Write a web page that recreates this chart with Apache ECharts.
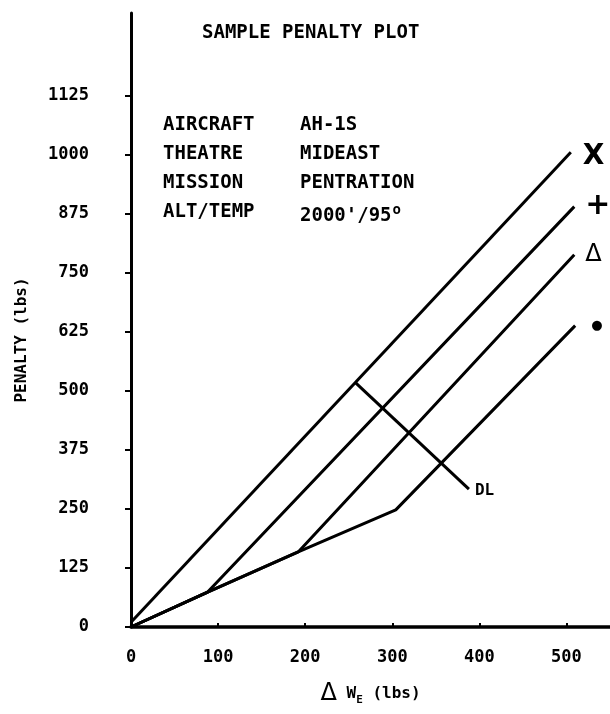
<!DOCTYPE html>
<html>
<head>
<meta charset="utf-8">
<title>Sample Penalty Plot</title>
<script src="https://cdn.jsdelivr.net/npm/echarts@6/dist/echarts.min.js"></script>
<style>
  html, body { margin: 0; padding: 0; background: #fff; }
  #main { width: 610px; height: 714px; }
</style>
</head>
<body>
<div id="main"></div>
<script>
// axis ticks
const xTicks = [0, 100, 200, 300, 400, 500]
const yTicks = [0, 125, 250, 375, 500, 625, 750, 875, 1000, 1125]

// line break points: [ΔW_E, penalty]
const lineX = [[0, 10], [505, 1005]]
const linePlus = [[0, 0], [88, 74], [509, 890]]
const lineTri = [[0, 0], [88, 74], [192, 159], [509, 788]]
const lineDot = [[0, 0], [88, 74], [192, 159], [304, 248], [510, 638]]
const lineDL = [[258, 517], [388, 292]]

// symbols at the line ends
const markers = ['X', '+', 'Δ', '●']

// info block
const infoKeys = ['AIRCRAFT', 'THEATRE', 'MISSION', 'ALT/TEMP']
const infoValues = ['AH-1S', 'MIDEAST', 'PENTRATION', "2000'/95°"]

const MONO = '"DejaVu Sans Mono", "Liberation Mono", monospace'
const SANS = '"DejaVu Sans", sans-serif'

let myChart = echarts.init(document.getElementById('main'))

function lineSeries(data, label, lbl) {
  return {
    type: 'line',
    data: data,
    symbol: 'none',
    silent: true,
    color: '#000',
    lineStyle: { color: '#000', width: 3 },
    endLabel: Object.assign({ show: true, formatter: label, color: '#000' }, lbl)
  }
}

// info text as graphic elements
let graphics = []
infoKeys.forEach((k, i) => {
  graphics.push({
    type: 'text', left: 163, top: 116 + i * 29,
    style: { text: k, font: 'bold 19px ' + MONO, fill: '#000' }
  })
  graphics.push({
    type: 'text', left: 300, top: 116 + i * 29,
    style: {
      text: infoValues[i].replace('°', '{sup|o}'),
      font: 'bold 19px ' + MONO, fill: '#000',
      rich: { sup: { fontSize: 14, fontWeight: 'bold', fontFamily: MONO, padding: [0, 0, 12, 1] } }
    }
  })
})
// y axis name
graphics.push({
  type: 'text', x: 22, y: 340, rotation: Math.PI / 2,
  style: { text: 'PENALTY (lbs)', font: 'bold 16px ' + MONO, fill: '#000', align: 'center', verticalAlign: 'middle' }
})

let option = {
  animation: false,
  backgroundColor: '#fff',
  title: {
    text: 'SAMPLE PENALTY PLOT',
    left: 197, top: 19,
    textStyle: { fontFamily: MONO, fontWeight: 'bold', fontSize: 19, color: '#000' }
  },
  grid: { left: 131, right: 0, top: 13, bottom: 87 },
  xAxis: {
    type: 'value', min: 0, max: 550,
    name: '{d|Δ} W{sub|E} (lbs)',
    nameLocation: 'middle', nameGap: 54,
    nameTextStyle: {
      fontFamily: MONO, fontWeight: 'bold', fontSize: 16, color: '#000',
      rich: {
        d: { fontFamily: SANS, fontWeight: 'normal', fontSize: 24, color: '#000' },
        sub: { fontFamily: MONO, fontWeight: 'bold', fontSize: 11, color: '#000', padding: [14, 0, 0, 0] }
      }
    },
    splitLine: { show: false },
    axisLine: { lineStyle: { color: '#000', width: 3.5 } },
    axisTick: { inside: true, length: 4, customValues: xTicks, lineStyle: { color: '#000', width: 2 } },
    axisLabel: { customValues: xTicks, margin: 22, fontFamily: MONO, fontWeight: 'bold', fontSize: 17, color: '#000' }
  },
  yAxis: {
    type: 'value', min: 0, max: 1300,
    splitLine: { show: false },
    axisLine: { lineStyle: { color: '#000', width: 3 } },
    axisTick: { length: 6, customValues: yTicks, lineStyle: { color: '#000', width: 2 } },
    axisLabel: {
      customValues: yTicks, margin: 42,
      formatter: v => String(v),
      fontFamily: MONO, fontWeight: 'bold', fontSize: 17, color: '#000'
    }
  },
  graphic: graphics,
  series: [
    lineSeries(lineX, markers[0], { fontFamily: SANS, fontWeight: 'bold', fontSize: 28, distance: 12, offset: [0, 4] }),
    lineSeries(linePlus, markers[1], { fontFamily: SANS, fontWeight: 'bold', fontSize: 30, distance: 11 }),
    lineSeries(lineTri, markers[2], { fontFamily: SANS, fontSize: 24, distance: 11 }),
    lineSeries(lineDot, markers[3], { fontFamily: SANS, fontSize: 13, distance: 16 }),
    lineSeries(lineDL, 'DL', { fontFamily: MONO, fontWeight: 'bold', fontSize: 16, distance: 6, offset: [0, 2] })
  ]
}
myChart.setOption(option)
</script>
</body>
</html>
